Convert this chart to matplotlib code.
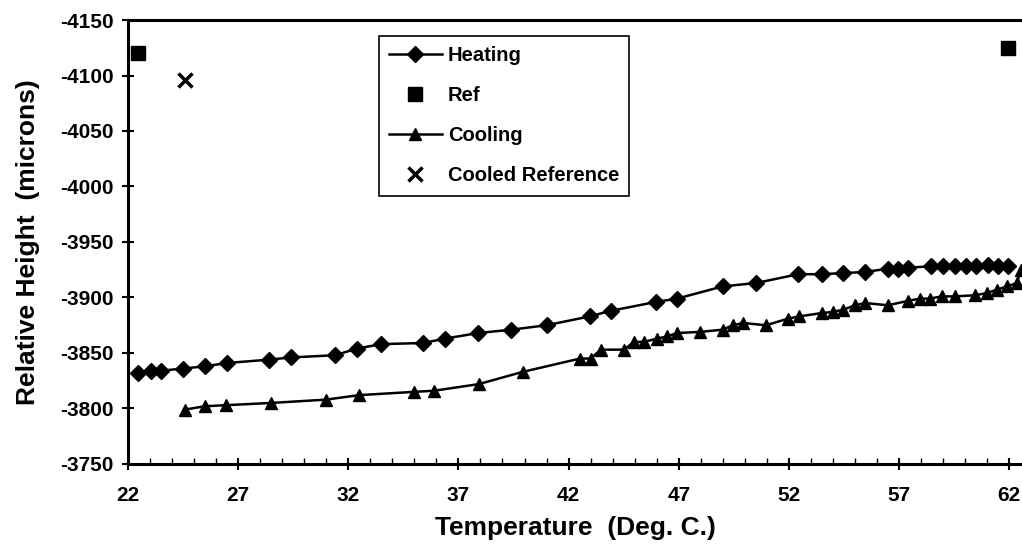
import matplotlib.pyplot as plt
from matplotlib.ticker import MultipleLocator

plt.rcParams['font.family'] = ['Liberation Sans', 'DejaVu Sans']
plt.rcParams['font.weight'] = 'bold'
plt.rcParams['axes.unicode_minus'] = False

# heating run
heat_t = [22.47, 23.04, 23.48, 24.5, 25.5, 26.5, 28.4, 29.4, 31.4, 32.4, 33.5,
          35.4, 36.4, 37.9, 39.4, 41.0, 42.97, 43.91, 45.97, 46.93, 48.99, 50.5,
          52.43, 53.49, 54.47, 55.46, 56.5, 56.96, 57.41, 58.47, 59.0, 59.53,
          60.06, 60.51, 61.04, 61.5, 61.95]
heat_h = [-3832, -3834, -3834, -3836, -3838, -3841, -3844, -3846, -3848, -3854,
          -3858, -3859, -3863, -3868, -3871, -3875, -3883, -3888, -3896, -3899,
          -3910, -3913, -3921, -3921, -3922, -3923, -3926, -3926, -3927, -3928,
          -3928, -3928, -3928, -3928, -3929, -3928, -3928]

# cooling run
cool_t = [24.58, 25.48, 26.47, 28.5, 31.0, 32.47, 34.99, 35.9, 37.93, 39.92,
          42.52, 43.0, 43.46, 44.51, 44.97, 45.42, 46.03, 46.48, 46.93, 47.97,
          48.99, 49.45, 49.93, 50.96, 51.97, 52.47, 53.49, 53.99, 54.47, 55.0,
          55.46, 56.5, 57.41, 57.95, 58.4, 58.93, 59.54, 60.45, 60.98, 61.43,
          61.89, 62.34, 62.55]
cool_h = [-3799, -3802, -3803, -3805, -3808, -3812, -3815, -3816, -3822, -3833,
          -3845, -3845, -3853, -3853, -3860, -3860, -3863, -3865, -3868, -3869,
          -3871, -3875, -3877, -3875, -3881, -3883, -3886, -3887, -3889, -3893,
          -3895, -3893, -3897, -3899, -3899, -3901, -3901, -3902, -3904, -3907,
          -3910, -3913, -3925]

ref_t = [22.47, 61.95]
ref_h = [-4120, -4125]

cref_t = [24.59]
cref_h = [-4096]

fig = plt.figure(figsize=(10.22, 5.48), dpi=100)
ax = fig.add_axes([0.1252, 0.1533, 0.8748, 0.8102])

ax.plot(heat_t, heat_h, color='black', lw=1.8, marker='D', ms=8, label='Heating')
ax.plot(ref_t, ref_h, ls='none', color='black', marker='s', ms=10, label='Ref')
ax.plot(cool_t, cool_h, color='black', lw=1.8, marker='^', ms=9, label='Cooling')
ax.plot(cref_t, cref_h, ls='none', color='black', marker='x', ms=10, mew=2.5,
        label='Cooled Reference')

ax.set_xlim(22, 62.58)
ax.set_ylim(-3750, -4150)
ax.xaxis.set_minor_locator(MultipleLocator(1))
ax.yaxis.set_major_locator(MultipleLocator(50))
ax.set_xticks([22, 27, 32, 37, 42, 47, 52, 57, 62])

ax.spines['right'].set_visible(False)
for s in ['left', 'bottom', 'top']:
    ax.spines[s].set_linewidth(2.2)
ax.tick_params(which='major', direction='inout', length=9, width=1.5, labelsize=15)
ax.tick_params(which='minor', direction='in', length=4, width=1)
ax.tick_params(axis='x', pad=11)
ax.tick_params(axis='y', pad=6)

ax.set_xlabel('Temperature  (Deg. C.)', fontsize=19, fontweight='bold', labelpad=8)
ax.set_ylabel('Relative Height  (microns)', fontsize=19, fontweight='bold', labelpad=14)

leg = ax.legend(loc='upper left', bbox_to_anchor=(0.281, 0.964), fontsize=14.5,
                frameon=True, fancybox=False, edgecolor='black', framealpha=1,
                handlelength=2.6, labelspacing=1.05, borderaxespad=0,
                borderpad=0.5, handletextpad=0.3)
leg.get_frame().set_linewidth(1.2)

fig.savefig('out.png', dpi=100)
